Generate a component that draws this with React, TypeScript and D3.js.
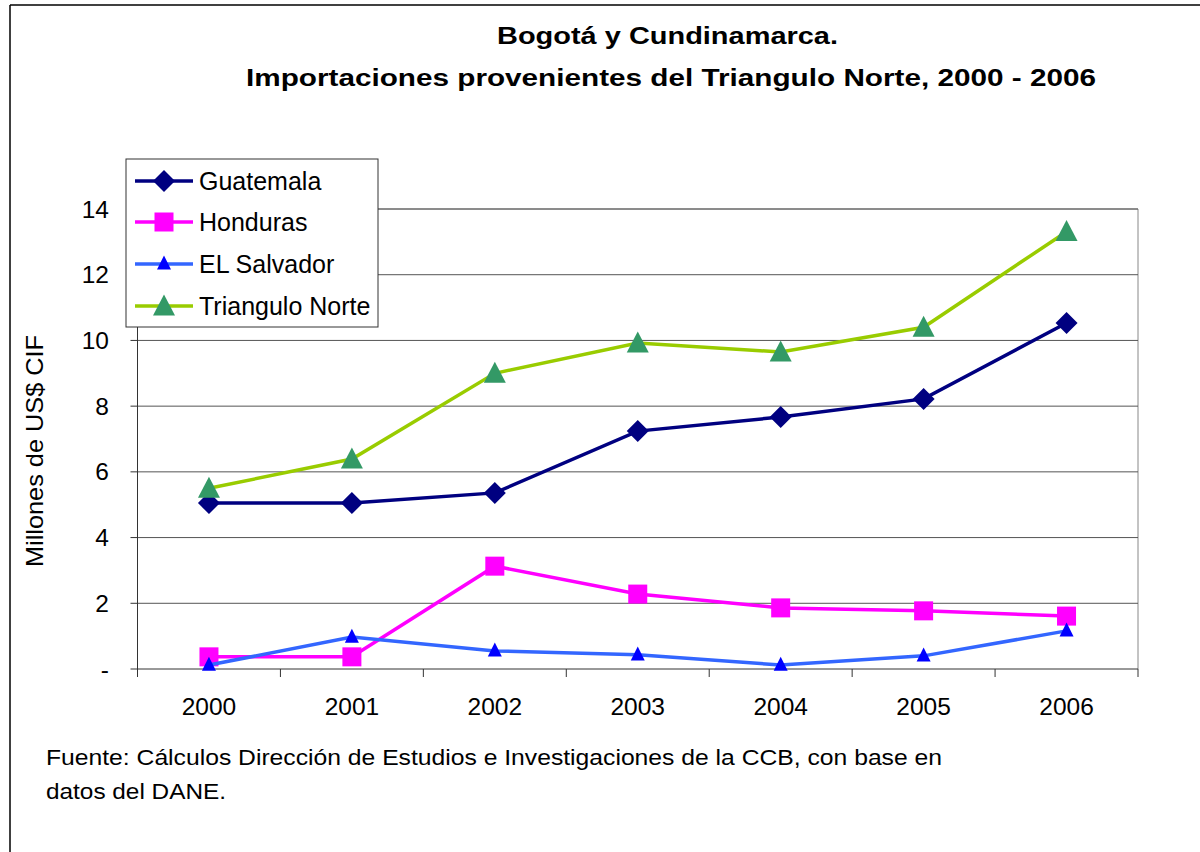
import React from "react";
import * as d3 from "d3";

const years = ["2000", "2001", "2002", "2003", "2004", "2005", "2006"];
const guatemala = [5.05, 5.05, 5.36, 7.24, 7.67, 8.22, 10.53];
const honduras = [0.37, 0.37, 3.13, 2.28, 1.86, 1.77, 1.61];
const elSalvador = [0.12, 0.97, 0.55, 0.43, 0.12, 0.4, 1.16];
const trianguloNorte = [5.5, 6.39, 9.0, 9.92, 9.65, 10.4, 13.31];
const yTicks = [0, 2, 4, 6, 8, 10, 12, 14];

const series = [
  { name: "Guatemala", values: guatemala, line: "#000080", marker: "#000080", shape: "diamond" },
  { name: "Honduras", values: honduras, line: "#FF00FF", marker: "#FF00FF", shape: "square" },
  { name: "EL Salvador", values: elSalvador, line: "#3366FF", marker: "#0000FF", shape: "triangleSmall" },
  { name: "Triangulo Norte", values: trianguloNorte, line: "#99CC00", marker: "#339966", shape: "triangleBig" },
];

const font = "'Liberation Sans', Arial, sans-serif";

function Marker({ shape, color, x, y }: { shape: string; color: string; x: number; y: number }) {
  if (shape === "diamond") {
    const s = 11;
    return <path d={`M${x},${y - s}L${x + s},${y}L${x},${y + s}L${x - s},${y}Z`} fill={color} />;
  }
  if (shape === "square") {
    const s = 9.5;
    return <rect x={x - s} y={y - s} width={2 * s} height={2 * s} fill={color} />;
  }
  if (shape === "triangleSmall") {
    const h = 14, w = 14;
    return <path d={`M${x},${y - h * 0.6}L${x + w / 2},${y + h * 0.4}L${x - w / 2},${y + h * 0.4}Z`} fill={color} />;
  }
  const h = 21, w = 22;
  return <path d={`M${x},${y - h * 0.55}L${x + w / 2},${y + h * 0.45}L${x - w / 2},${y + h * 0.45}Z`} fill={color} />;
}

export default function App() {
  const W = 1200, H = 852;
  const left = 137.5, right = 1138, top = 209, bottom = 669;
  const x = d3.scaleBand<string>().domain(years).range([left, right]);
  const y = d3.scaleLinear().domain([0, 14]).range([bottom, top]);
  const cx = (d: string) => (x(d) as number) + x.bandwidth() / 2;
  const lineGen = d3.line<number>().x((_, i) => cx(years[i])).y((v) => y(v));

  const legendX = 126, legendY = 159, legendW = 252, legendH = 168;
  const legendRows = [181, 222, 264, 306];

  return (
    <svg width={W} height={H} style={{ display: "block", position: "absolute", left: 0, top: 0 }} fontFamily={font}>
      <rect x={0} y={0} width={W} height={H} fill="#fff" />
      {/* outer frame */}
      <line x1={10} y1={5} x2={W} y2={5} stroke="#000" strokeWidth={1.5} />
      <line x1={10} y1={5} x2={10} y2={H} stroke="#000" strokeWidth={1.5} />

      {/* title */}
      <text x={497} y={44} fontSize={23.5} fontWeight="bold" textLength={341} lengthAdjust="spacingAndGlyphs">Bogotá y Cundinamarca.</text>
      <text x={246} y={86} fontSize={23.5} fontWeight="bold" textLength={850} lengthAdjust="spacingAndGlyphs">Importaciones provenientes del Triangulo Norte, 2000 - 2006</text>

      {/* plot frame */}
      <line x1={left} y1={top} x2={right} y2={top} stroke="#888" strokeWidth={1} />
      <line x1={right} y1={top} x2={right} y2={bottom} stroke="#888" strokeWidth={1} />
      {yTicks.filter((t) => t > 0).map((t) => (
        <line key={t} x1={left} x2={right} y1={y(t)} y2={y(t)} stroke="#555" strokeWidth={1} />
      ))}
      {/* axes */}
      <line x1={left} y1={top} x2={left} y2={bottom} stroke="#333" strokeWidth={1} />
      <line x1={left} y1={bottom} x2={right} y2={bottom} stroke="#333" strokeWidth={1} />
      {yTicks.map((t) => (
        <g key={t}>
          <line x1={left - 7} x2={left} y1={y(t)} y2={y(t)} stroke="#333" />
          <text x={109} y={y(t) + 8.5} textAnchor="end" fontSize={24.5}>{t === 0 ? "-" : String(t)}</text>
        </g>
      ))}
      {[...years.map((d) => x(d) as number), right].map((p, i) => (
        <line key={i} x1={p} x2={p} y1={bottom} y2={bottom + 8} stroke="#333" />
      ))}
      {years.map((d) => (
        <text key={d} x={cx(d)} y={715} textAnchor="middle" fontSize={24.5}>{d}</text>
      ))}
      <text transform={`translate(43,451) rotate(-90)`} textAnchor="middle" fontSize={24.5} textLength={232} lengthAdjust="spacingAndGlyphs">Millones de US$ CIF</text>

      {/* series */}
      {series.map((s) => (
        <g key={s.name}>
          <path d={lineGen(s.values) || ""} fill="none" stroke={s.line} strokeWidth={3.5} />
          {s.values.map((v, i) => (
            <Marker key={i} shape={s.shape} color={s.marker} x={cx(years[i])} y={y(v)} />
          ))}
        </g>
      ))}

      {/* legend */}
      <rect x={legendX} y={legendY} width={legendW} height={legendH} fill="#fff" stroke="#333" strokeWidth={1} />
      {series.map((s, i) => (
        <g key={s.name}>
          <line x1={135} x2={193} y1={legendRows[i]} y2={legendRows[i]} stroke={s.line} strokeWidth={3.5} />
          <Marker shape={s.shape} color={s.marker} x={164} y={legendRows[i]} />
          <text x={199} y={legendRows[i] + 8.5} fontSize={25}>{s.name}</text>
        </g>
      ))}

      {/* footnote */}
      <text x={46} y={765} fontSize={21.6} textLength={896} lengthAdjust="spacingAndGlyphs">Fuente: Cálculos Dirección de Estudios e Investigaciones de la CCB, con base en</text>
      <text x={46} y={799} fontSize={21.6} textLength={180} lengthAdjust="spacingAndGlyphs">datos del DANE.</text>
    </svg>
  );
}
